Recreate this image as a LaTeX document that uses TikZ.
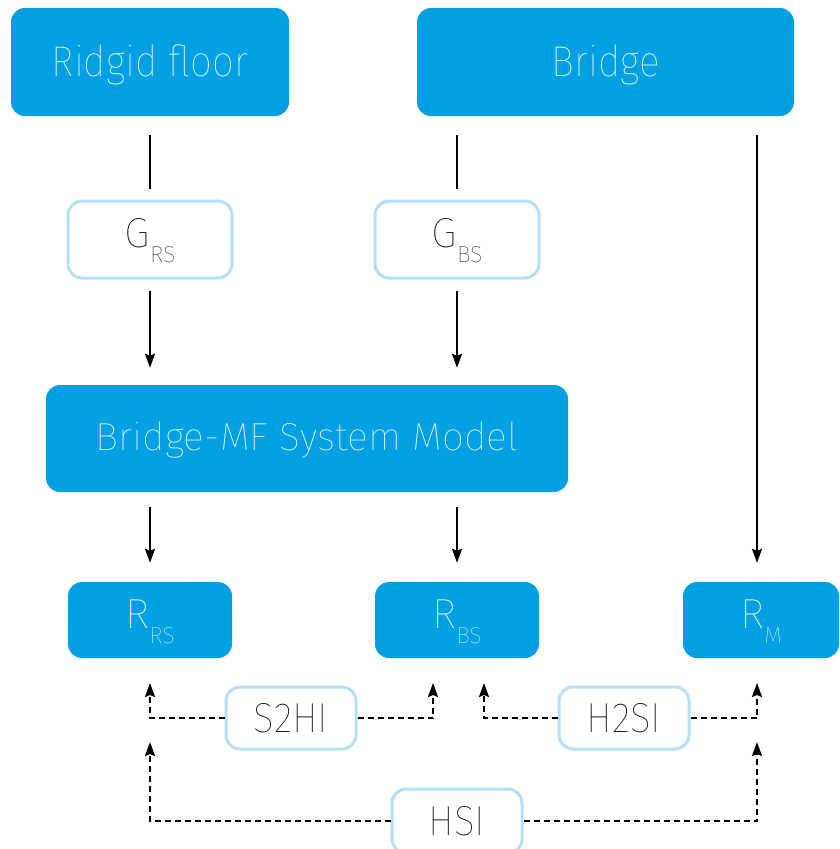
\documentclass[tikz,border=0pt]{standalone}
\usepackage{fontspec}
\setmainfont{Fira Sans}[UprightFont={* Thin}]
\usetikzlibrary{arrows.meta,calc}
\definecolor{mfblue}{RGB}{0,160,227}
\definecolor{mflight}{RGB}{180,224,246}
\definecolor{mfdark}{RGB}{10,10,10}
% symbol with a lowered, smaller index
\newcommand\withsub[2]{#1\raisebox{-15pt}{\fontsize{23}{23}\selectfont #2}}
% slightly condensed label
\newcommand\narrow[2]{\scalebox{#1}[1]{#2}}
\begin{document}
\begin{tikzpicture}[x=1pt,y=-1pt,
  solidbox/.style={rounded corners=14pt, fill=mfblue, text=white, inner sep=0pt, text depth=0pt},
  lightbox/.style={rounded corners=14pt, draw=mflight, line width=3pt, fill=white, text=mfdark, inner sep=0pt, text depth=0pt},
  toptext/.style={font=\fontsize{43}{48}\selectfont, text height=28pt},
  midtext/.style={font=\fontsize{39}{44}\selectfont, text height=23pt},
  symtext/.style={font=\fontsize{42}{46}\selectfont, text height=16.5pt},
  labtext/.style={font=\fontsize{42}{46}\selectfont, text height=29pt},
  conn/.style={line width=2pt, black},
  tip/.style={-{Stealth[length=14pt,width=10pt,inset=2pt]}},
  arr/.style={conn, tip},
  dashline/.style={line width=2pt, dash pattern=on 6pt off 4pt, tip},
]
\useasboundingbox (0,0) rectangle (839,849);

% top row
\node[solidbox, toptext, minimum width=278pt, minimum height=108pt] (rf) at (150,62) {\narrow{0.9}{Ridgid floor}};
\node[solidbox, toptext, minimum width=377pt, minimum height=108pt] (br) at (605.5,62) {\narrow{0.9}{Bridge}};

% transfer functions
\node[lightbox, symtext, minimum width=164pt, minimum height=77pt] (grs) at (150,239.5) {\withsub{G}{RS}};
\node[lightbox, symtext, minimum width=164pt, minimum height=77pt] (gbs) at (457,239.5) {\withsub{G}{BS}};

% system model
\node[solidbox, midtext, minimum width=522pt, minimum height=107pt] (sys) at (307,438.5) {Bridge-MF System Model};

% responses
\node[solidbox, symtext, minimum width=164pt, minimum height=76pt] (rrs) at (150,620) {\withsub{R}{RS}};
\node[solidbox, symtext, minimum width=164pt, minimum height=76pt] (rbs) at (457,620) {\withsub{R}{BS}};
\node[solidbox, symtext, minimum width=156pt, minimum height=76pt] (rm) at (761,620) {\withsub{R}{M}};

% interaction labels
\node[lightbox, labtext, minimum width=130pt, minimum height=62pt] (s2hi) at (291,718) {\narrow{0.92}{S2HI}};
\node[lightbox, labtext, minimum width=130pt, minimum height=62pt] (h2si) at (624,718) {\narrow{0.92}{H2SI}};
\node[lightbox, labtext, minimum width=130pt, minimum height=64pt] (hsi) at (457,821) {\narrow{0.92}{HSI}};

% solid flow
\draw[conn, shorten <=19pt, shorten >=11pt] (rf.south) -- (grs.north);
\draw[conn, shorten <=19pt, shorten >=11pt] (gbs |- br.south) -- (gbs.north);
\draw[arr, shorten <=11pt, shorten >=17pt] (grs.south) -- (grs |- sys.north);
\draw[arr, shorten <=11pt, shorten >=17pt] (gbs.south) -- (gbs |- sys.north);
\draw[arr, shorten <=15pt, shorten >=19pt] (rrs |- sys.south) -- (rrs.north);
\draw[arr, shorten <=15pt, shorten >=19pt] (rbs |- sys.south) -- (rbs.north);
\draw[arr, shorten <=19pt, shorten >=19pt] ([xshift=-4pt]rm.north |- br.south) -- ([xshift=-4pt]rm.north);

% dashed interaction links
\coordinate (t1) at (150,683);
\coordinate (t2) at (433,683);
\coordinate (t3) at (484,683);
\coordinate (t4) at (757,683);
\coordinate (t5) at (150,742);
\coordinate (t6) at (757,742);
\draw[dashline] (s2hi.west) -| (t1);
\draw[dashline] (s2hi.east) -| (t2);
\draw[dashline] (h2si.west) -| (t3);
\draw[dashline] (h2si.east) -| (t4);
\draw[dashline] (hsi.west) -| (t5);
\draw[dashline] (hsi.east) -| (t6);
\end{tikzpicture}
\end{document}
